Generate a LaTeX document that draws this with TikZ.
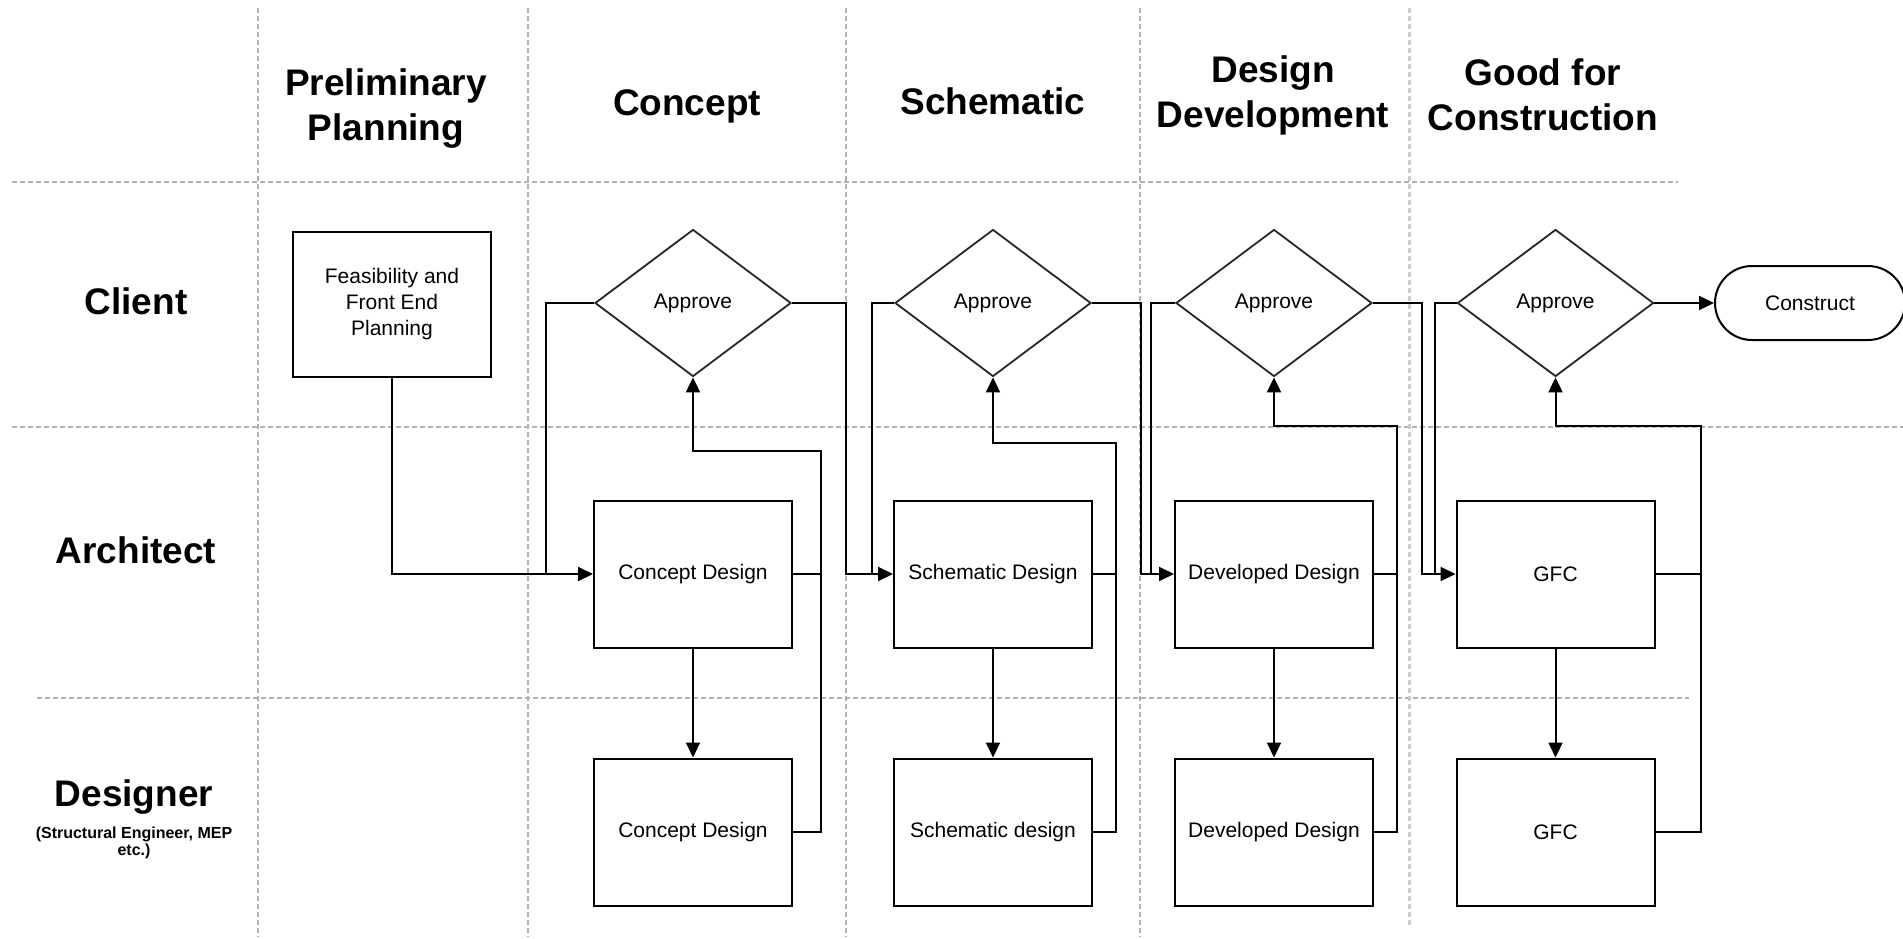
\documentclass[tikz,border=0pt]{standalone}
\usepackage{fontspec}
\setmainfont{Liberation Sans}
\usetikzlibrary{shapes.geometric,arrows.meta}
\begin{document}
\begin{tikzpicture}[x=1pt,y=-1pt,
  sep/.style={draw=black!30, line width=1.5pt, dash pattern=on 5pt off 3pt},
  box/.style={draw=black, line width=2pt, minimum width=198pt, minimum height=147pt, inner sep=0pt, font=\fontsize{21}{26}\selectfont, align=center},
  dec/.style={draw=black!85, line width=1.8pt, diamond, minimum width=196pt, minimum height=147pt, inner sep=0pt, font=\fontsize{21}{26}\selectfont},
  link/.style={line width=2pt, draw=black},
  conn/.style={link, -{Triangle[length=15pt,width=14pt]}},
  head/.style={font=\fontsize{37}{45}\selectfont\bfseries, align=center},
  lane/.style={font=\fontsize{37}{45}\selectfont\bfseries},
]
\useasboundingbox (0,0) rectangle (1903,938);
% swimlane separators
\draw[sep] (12,182) -- (1678,182);
\draw[sep] (12,427) -- (1903,427);
\draw[sep] (37,698) -- (1689,698);
\foreach \x in {258,528,846,1140} \draw[sep] (\x,8) -- (\x,937);
\draw[sep, line width=3pt, draw=black!20] (1409,8) -- (1409,927);
% headers
\node[head] (hpre) at (386,109) {Preliminary\\Planning};
\node[head] (hcon) at (687,106) {Concept};
\node[head] (hsch) at (993,101) {Schematic};
\node[head] (hdev) at (1273,95) {Design\\Development};
\node[head] (hgfc) at (1543,95) {Good for\\Construction};
% lanes
\node[lane] (lcli) at (136,301) {Client};
\node[lane] (larc) at (136,550) {Architect};
\node[lane] (ldes) at (134,797) {Designer};
\node[font=\fontsize{16}{17}\selectfont\bfseries, align=center] (ldsub) at (134,843) {(Structural Engineer, MEP\\etc.)};
% nodes
\node[box, minimum height=145pt] (feas) at (392,304.5) {Feasibility and\\Front End\\Planning};
\node[dec] (appr1) at (693,303) {Approve};
\node[box] (arch1) at (693,574) {Concept Design};
\node[box] (des1) at (693,832) {Concept Design};
\node[dec] (appr2) at (993,303) {Approve};
\node[box] (arch2) at (993,574) {Schematic Design};
\node[box] (des2) at (993,832) {Schematic design};
\node[dec] (appr3) at (1274,303) {Approve};
\node[box] (arch3) at (1274,574) {Developed Design};
\node[box] (des3) at (1274,832) {Developed Design};
\node[dec] (appr4) at (1555.5,303) {Approve};
\node[box] (arch4) at (1555.5,574) {GFC};
\node[box] (des4) at (1555.5,832) {GFC};
\node[draw, line width=2pt, rounded corners=37pt, minimum width=190pt, minimum height=74pt, font=\fontsize{21}{26}\selectfont] (cons) at (1810,303) {Construct};
% junctions
\coordinate (j1) at (546,574);
\coordinate (r1) at (821,451);
\coordinate (l2a) at (846,574);
\coordinate (l2b) at (872,574);
\coordinate (r2) at (1116,443);
\coordinate (l3a) at (1141,574);
\coordinate (l3b) at (1151,574);
\coordinate (r3) at (1397,426);
\coordinate (l4a) at (1422,574);
\coordinate (l4b) at (1435,574);
\coordinate (r4) at (1701,426);
% connectors
\draw[conn] (feas.south) |- (arch1.west);
\draw[link] (appr1.west) -| (j1);
\draw[link] (arch1.east) -- (arch1.east -| r1);
\draw[conn] (des1.east) -| (r1) -| (appr1.south);
\draw[conn] (arch1.south) -- (des1.north);
\draw[conn] (appr1.east) -| (l2a) -- (arch2.west);
\draw[link] (appr2.west) -| (l2b);
\draw[link] (arch2.east) -- (arch2.east -| r2);
\draw[conn] (des2.east) -| (r2) -| (appr2.south);
\draw[conn] (arch2.south) -- (des2.north);
\draw[conn] (appr2.east) -| (l3a) -- (arch3.west);
\draw[link] (appr3.west) -| (l3b);
\draw[link] (arch3.east) -- (arch3.east -| r3);
\draw[conn] (des3.east) -| (r3) -| (appr3.south);
\draw[conn] (arch3.south) -- (des3.north);
\draw[conn] (appr3.east) -| (l4a) -- (arch4.west);
\draw[link] (appr4.west) -| (l4b);
\draw[link] (arch4.east) -- (arch4.east -| r4);
\draw[conn] (des4.east) -| (r4) -| (appr4.south);
\draw[conn] (arch4.south) -- (des4.north);
\draw[conn] (appr4.east) -- (cons.west);
\end{tikzpicture}
\end{document}
